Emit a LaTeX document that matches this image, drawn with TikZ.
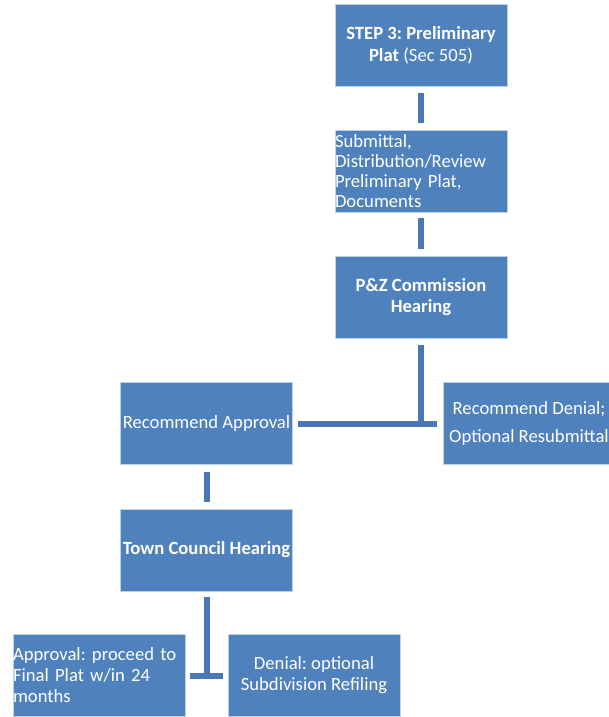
\documentclass[tikz,border=0pt]{standalone}
\usepackage{fontspec}
\setmainfont{Carlito}
\frenchspacing
\definecolor{boxfill}{RGB}{79,129,189}
\definecolor{boxedge}{RGB}{190,208,230}
\definecolor{connc}{RGB}{74,120,180}
\begin{document}
\begin{tikzpicture}[x=0.75pt,y=-0.75pt,
  box/.style={draw=boxedge, line width=0.6pt, fill=boxfill, text=white,
    minimum width=129pt, minimum height=61.5pt, inner sep=0pt,
    font=\fontsize{14pt}{16.5pt}\selectfont, align=center},
  leftbox/.style={box, text width=129pt, align=left},
  conn/.style={draw=connc, line width=4.5pt}]
\useasboundingbox (0,0) rectangle (609,717);
\clip (0,0) rectangle (609,717);
\node[box] (b1) at (421,45) {\textbf{STEP 3: Preliminary}\\\textbf{Plat} (Sec 505)};
\node[leftbox, font=\fontsize{14pt}{15pt}\selectfont] (b2) at (421,171.5) {Submittal,\\Distribution/Review\\Preliminary Plat,\\Documents};
\node[box, font=\fontsize{14pt}{15.75pt}\selectfont] (b3) at (421,297) {\textbf{P\&Z Commission}\\\textbf{Hearing}};
\node[box] (ra) at (206.5,423.5) {Recommend Approval};
\node[box, font=\fontsize{14pt}{21pt}\selectfont] (rd) at (529,423.5) {Recommend Denial;\\Optional Resubmittal};
\node[box] (tc) at (206.5,550) {\textbf{Town Council Hearing}};
\node[leftbox, font=\fontsize{14pt}{15.75pt}\selectfont] (ap) at (99,675.5) {Approval: proceed to\\Final Plat w/in 24\\months};
\node[box, font=\fontsize{14pt}{15.75pt}\selectfont] (dn) at (314,675.5) {Denial: optional\\Subdivision Refiling};
\coordinate (j1) at (421,427);
\coordinate (j2) at (207,679);
\draw[conn, shorten <=5.25pt, shorten >=5.25pt] (b1) -- (b2);
\draw[conn, shorten <=3.75pt, shorten >=5.25pt] (b2) -- (b3);
\draw[conn, shorten <=5.25pt] (b3.south) -- (j1);
\draw[conn, shorten <=3.75pt, shorten >=4.5pt] (ra) -- (rd);
\draw[conn, shorten <=5.25pt, shorten >=5.25pt] (ra) -- (tc);
\draw[conn, shorten <=4.5pt] (tc.south -| j2) -- (j2);
\draw[conn, shorten <=3.75pt, shorten >=3.75pt] (ap.east |- 0,676) -- (dn.west |- 0,676);
\end{tikzpicture}
\end{document}
